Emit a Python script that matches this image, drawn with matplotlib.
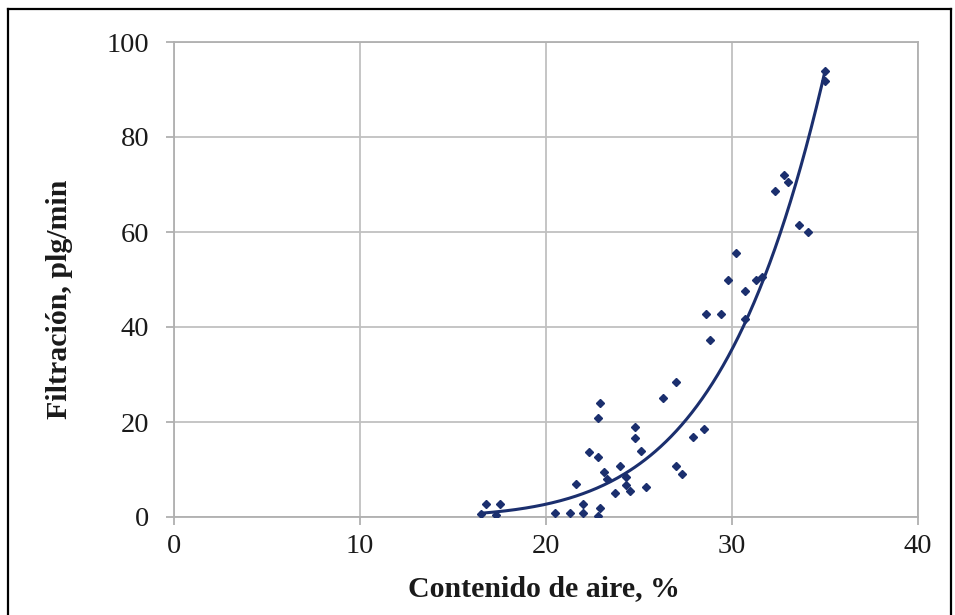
import numpy as np
import matplotlib
matplotlib.use("Agg")
import matplotlib.pyplot as plt
from matplotlib.lines import Line2D

# contenido de aire (%) vs filtracion (plg/min)
aire = [16.5, 16.8, 17.3, 17.5, 20.5, 21.3, 21.6, 22.0, 22.0, 22.3, 22.8, 22.9,
        22.8, 22.9, 22.8, 23.1, 23.3, 23.7, 24.0, 24.3, 24.3, 24.5, 24.8, 24.8,
        25.1, 25.4, 26.3, 27.0, 27.0, 27.3, 27.9, 28.5, 28.6, 28.8, 29.4, 29.8,
        30.2, 30.7, 30.7, 31.3, 31.6, 32.3, 32.8, 33.0, 33.6, 34.1, 35.0, 35.0]
filtracion = [0.6, 2.7, 0.5, 2.7, 0.8, 0.8, 6.9, 2.7, 0.8, 13.6, 20.8, 24.1,
              12.7, 2.0, 0.3, 9.5, 7.9, 5.0, 10.7, 8.5, 6.7, 5.5, 19.0, 16.6,
              13.9, 6.4, 25.0, 28.5, 10.8, 9.1, 16.9, 18.6, 42.8, 37.2, 42.8, 50.0,
              55.6, 47.5, 41.6, 50.0, 50.6, 68.6, 72.0, 70.5, 61.4, 60.1, 91.8, 94.0]

# power trendline y = a * x^n
trend_a = 1.503e-8
trend_n = 6.344
trend_x0, trend_x1 = 16.5, 35.0

xticks = [0, 10, 20, 30, 40]
yticks = [0, 20, 40, 60, 80, 100]

plt.rcParams['font.family'] = ['Liberation Serif', 'DejaVu Serif']

fig = plt.figure(figsize=(9.55, 6.15), dpi=100)
ax = fig.add_axes([174/955, 1 - 517/615, (918 - 174)/955, (517 - 42)/615])

navy = '#1b2f6e'
ax.plot(aire, filtracion, linestyle='none', marker='D', markersize=3.6,
        color=navy, zorder=3)
xs = np.linspace(trend_x0, trend_x1, 200)
ax.plot(xs, trend_a * xs ** trend_n, color=navy, linewidth=2.2, zorder=4)

ax.set_xlim(0, 40)
ax.set_ylim(0, 100)
ax.set_xticks(xticks)
ax.set_yticks(yticks)
ax.grid(True, color='#c0c0c0', linewidth=1.3)
ax.set_axisbelow(True)
for s in ax.spines.values():
    s.set_color('#b0b0b0')
    s.set_linewidth(1.3)
ax.tick_params(colors='#b0b0b0', labelcolor='#1a1a1a', labelsize=20.5,
               length=6, width=1.3)
ax.tick_params(axis='x', pad=6)
ax.tick_params(axis='y', pad=12)

ax.set_xlabel('Contenido de aire, %', fontsize=21.5, fontweight='bold',
              color='#1a1a1a')
ax.set_ylabel('Filtración, plg/min', fontsize=21.5, fontweight='bold',
              color='#1a1a1a')
ax.xaxis.set_label_coords(0.497, -0.122)
ax.yaxis.set_label_coords(-0.136, 0.459)

# outer frame
for xy in [([8/955, 8/955], [0, 1 - 9/615]),
           ([8/955, 951/955], [1 - 9/615, 1 - 9/615]),
           ([951/955, 951/955], [0, 1 - 9/615])]:
    fig.add_artist(Line2D(xy[0], xy[1], color='black', linewidth=1.6))

fig.savefig('out.png', dpi=100)
